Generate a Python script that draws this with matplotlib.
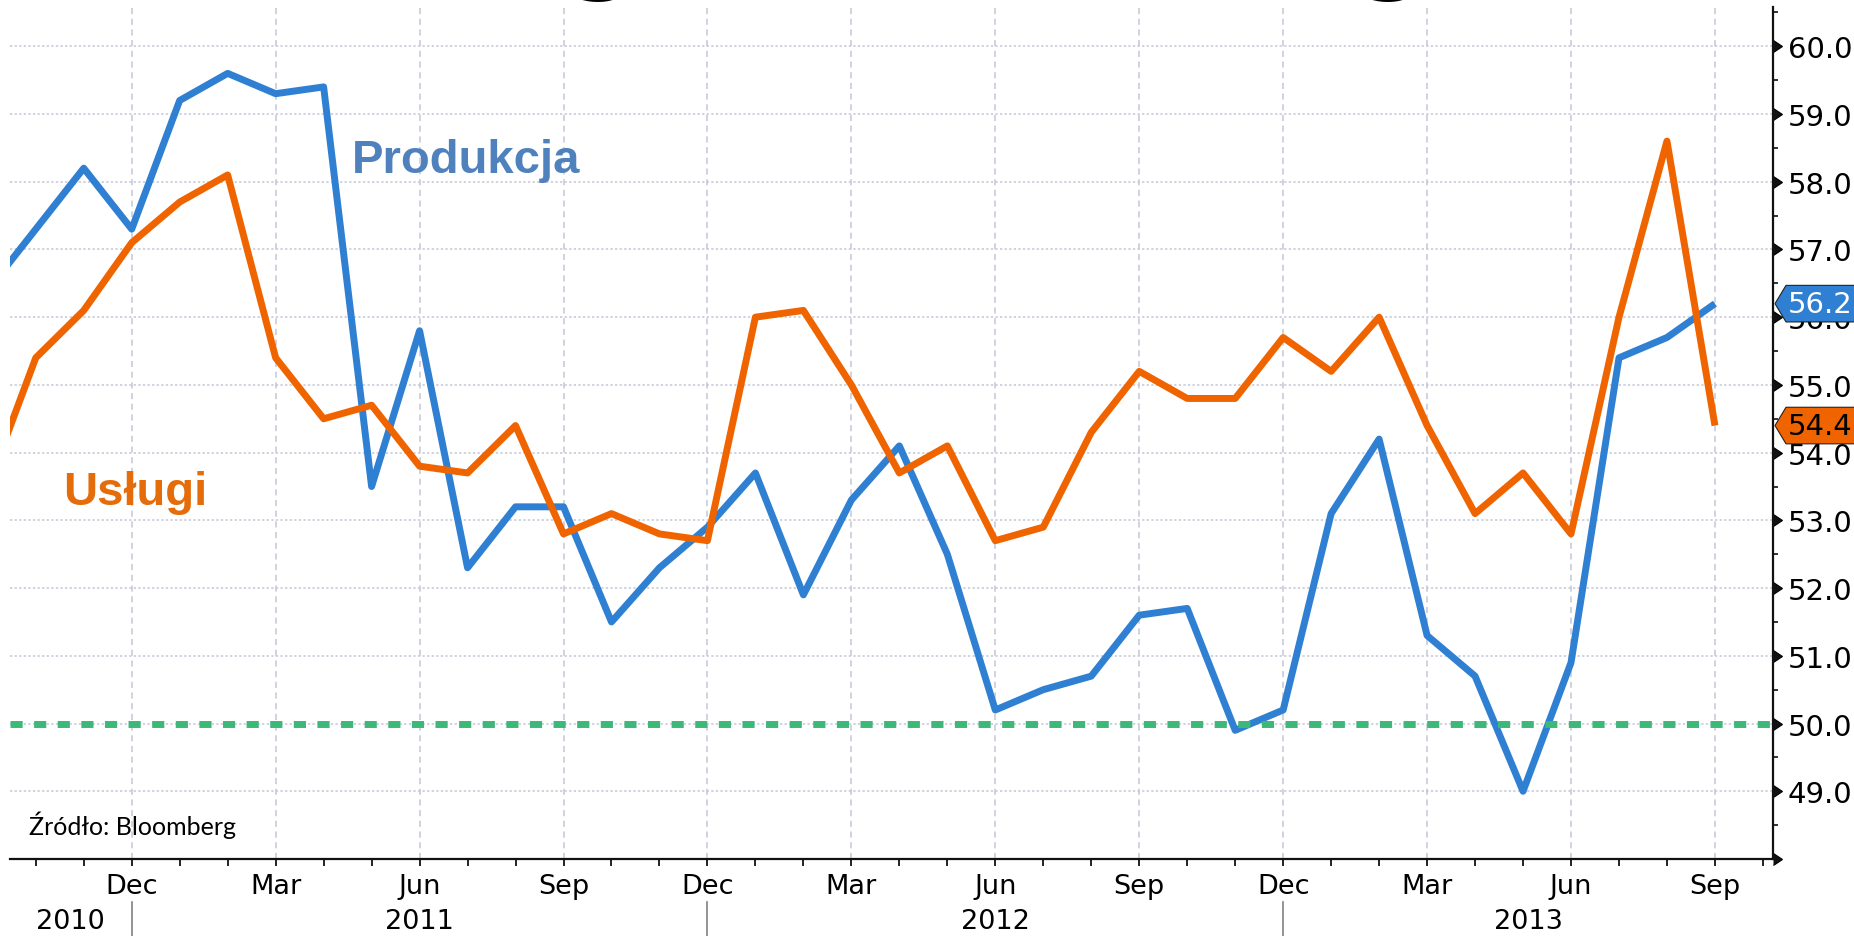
import matplotlib.pyplot as plt
import numpy as np
import pandas as pd
from matplotlib.patches import Polygon

# monthly PMI readings, Sep 2010 - Sep 2013
months = pd.date_range("2010-09-01", periods=37, freq="MS")
produkcja = [56.4, 57.3, 58.2, 57.3, 59.2, 59.6, 59.3, 59.4, 53.5, 55.8,
             52.3, 53.2, 53.2, 51.5, 52.3, 52.9, 53.7, 51.9, 53.3, 54.1,
             52.5, 50.2, 50.5, 50.7, 51.6, 51.7, 49.9, 50.2, 53.1, 54.2,
             51.3, 50.7, 49.0, 50.9, 55.4, 55.7, 56.2]
uslugi = [53.5, 55.4, 56.1, 57.1, 57.7, 58.1, 55.4, 54.5, 54.7, 53.8,
          53.7, 54.4, 52.8, 53.1, 52.8, 52.7, 56.0, 56.1, 55.0, 53.7,
          54.1, 52.7, 52.9, 54.3, 55.2, 54.8, 54.8, 55.7, 55.2, 56.0,
          54.4, 53.1, 53.7, 52.8, 56.0, 58.6, 54.4]
threshold = 50.0
yticks = np.arange(48, 61)

blue = "#2f80d2"
orange = "#f06400"
green = "#3cb878"
grid_c = "#c3c8d6"

fig = plt.figure(figsize=(18.54, 9.37), dpi=100)
ax = fig.add_axes([10 / 1854, 77 / 937, 1763 / 1854, 852 / 937])

x = np.arange(len(months))
xlim = (0.463, 37.21)

ax.plot(x, produkcja, color=blue, lw=5, solid_capstyle="butt", zorder=3)
ax.plot(x, uslugi, color=orange, lw=5, solid_capstyle="butt", zorder=4)
ax.axhline(threshold, color=green, lw=5, dashes=(1.75, 1.65),
           dash_capstyle="butt", zorder=5)

for s in ["left", "top"]:
    ax.spines[s].set_visible(False)
for s in ["bottom", "right"]:
    ax.spines[s].set_linewidth(1.6)
    ax.spines[s].set_color("#111111")

# x axis: month ticks (only the ones inside the view)
major = [i for i, d in enumerate(months)
         if d.month in (3, 6, 9, 12) and i > xlim[0]]
ax.set_xticks(major, [months[i].strftime("%b") for i in major])
ax.set_xticks(np.arange(1, 38), minor=True)
ax.tick_params(axis="x", which="both", direction="out", length=5,
               width=1.3, color="#111111")
ax.tick_params(axis="x", which="major", labelsize=19.5, pad=5)

# y axis on the right with triangle ticks
ax.yaxis.tick_right()
ax.set_yticks(yticks, ["" if v == 48 else f"{v:.1f}" for v in yticks])
ax.set_yticks(np.arange(48.5, 61, 1.0), minor=True)
ax.tick_params(axis="y", which="major", direction="out", length=8,
               labelsize=21, pad=2.6)
ax.tick_params(axis="y", which="minor", direction="out", length=3.5,
               width=1.2, color="#111111")
for t in ax.yaxis.get_major_ticks():
    t.tick2line.set_marker(9)
    t.tick2line.set_markersize(9)
    t.tick2line.set_color("#111111")

# limits last, set_ticks would widen them
ax.set_xlim(*xlim)
ax.set_ylim(48, 60.58)

ax.set_axisbelow(True)
ax.grid(axis="y", which="major", color=grid_c, lw=1.1, ls=(0, (1.5, 1.5)))
ax.grid(axis="x", which="major", color=grid_c, lw=1.1, ls=(0, (4, 3)))

# years below the months
bounds = [xlim[0], 3, 15, 27, xlim[1]]
years = ["2010", "2011", "2012", "2013"]
tr = ax.get_xaxis_transform()
for i, yr in enumerate(years):
    ax.text((bounds[i] + bounds[i + 1]) / 2, -0.073, yr, transform=tr,
            ha="center", va="center", fontsize=19.5, clip_on=False)
for b in bounds[1:-1]:
    ax.plot([b, b], [-0.05, -0.1], transform=tr, color="#808080", lw=1.2,
            clip_on=False)
ax.set_xlim(*xlim)

# last value tags
ytr = ax.get_yaxis_transform()
def tag(v, fc, tc):
    w = 1 / 1763
    pts = [(1 + 2 * w, v), (1 + 13 * w, v + 0.27), (1.2, v + 0.27),
           (1.2, v - 0.27), (1 + 13 * w, v - 0.27)]
    ax.add_patch(Polygon(pts, closed=True, transform=ytr, clip_on=False,
                         facecolor=fc, edgecolor="#222222", lw=0.8, zorder=10))
    ax.text(1 + 15 * w, v, f"{v:.1f}", transform=ytr, ha="left", va="center",
            fontsize=21, color=tc, clip_on=False, zorder=11)

tag(produkcja[-1], blue, "white")
tag(uslugi[-1], orange, "black")

# series labels
ax.text(7.59, 58.15, "Produkcja", color="#4f81bd", fontsize=34,
        fontweight="bold", family="Liberation Sans", ha="left", va="baseline")
ax.text(1.57, 53.24, "Usługi", color="#e46c0a", fontsize=34,
        fontweight="bold", family="Liberation Sans", ha="left", va="baseline")
ax.text(0.85, 48.37, "Źródło: Bloomberg", fontsize=18, family="Lato",
        ha="left", va="baseline")

# bits of the cut-off title above the chart
for fx in [0.3247, 0.7508]:
    fig.text(fx, 1.0215, "g", fontsize=72, fontweight="bold",
             ha="center", va="baseline", color="black")

fig.savefig("out.png", dpi=100)
